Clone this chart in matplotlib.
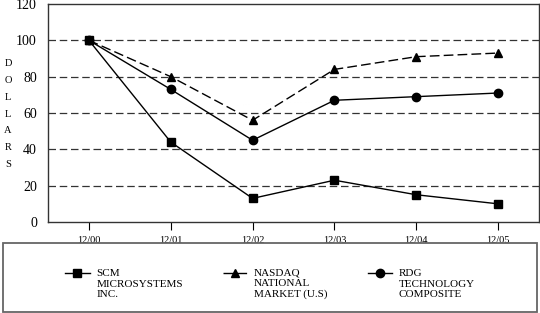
import matplotlib.pyplot as plt
from matplotlib.patches import Rectangle

plt.rcParams['font.family'] = ['Liberation Serif', 'DejaVu Serif']

periods = ["12/00", "12/01", "12/02", "12/03", "12/04", "12/05"]
scm = [100, 44, 13, 23, 15, 10]
nasdaq = [100, 80, 56, 84, 91, 93]
rdg = [100, 73, 45, 67, 69, 71]

fig = plt.figure(figsize=(5.4, 3.13), dpi=100)
ax = fig.add_axes([48/540, 1 - 222/313, (539-48)/540, (222-4)/313])

x = range(len(periods))
ax.plot(x, scm, color='black', lw=1, marker='s', ms=5.5, label="SCM\nMICROSYSTEMS\nINC.")
ax.plot(x, nasdaq, color='black', lw=1, ls=(0, (7, 3)), marker='^', ms=6,
        label="NASDAQ\nNATIONAL\nMARKET (U.S)")
ax.plot(x, rdg, color='black', lw=1, marker='o', ms=6, label="RDG\nTECHNOLOGY\nCOMPOSITE")

ax.set_xlim(-0.5, len(periods) - 0.5)
ax.set_ylim(0, 120)
ax.set_yticks(range(0, 121, 20))
ax.set_xticks(list(x))
ax.set_xticklabels(periods, fontsize=7.5)
ax.tick_params(axis='y', length=0, pad=8, labelsize=10)
ax.tick_params(axis='x', length=6, width=0.8, direction='out', pad=4)
for yv in range(20, 101, 20):
    ax.axhline(yv, color='#333333', lw=0.9, ls=(0, (6, 3)), zorder=0)
for s in ax.spines.values():
    s.set_color('#333333')
    s.set_linewidth(1)

fig.text(8/540, 1 - 114/313, "\n".join("DOLLARS"), ha='center', va='center',
         fontsize=7.5, linespacing=2.13)

fig.patches.append(Rectangle((3/540, 1 - 312/313), 534/540, 69/313, transform=fig.transFigure,
                             fill=False, edgecolor='#666666', lw=1.3))
leg = fig.legend(loc='center', bbox_to_anchor=(0.5, 1 - 284/313), ncol=3, frameon=False,
                 fontsize=8, handlelength=2.2, columnspacing=3.6, handletextpad=0.6)
# put each handle next to the first line of its label
for col in leg._legend_handle_box.get_children():
    for row in col.get_children():
        row.align = "top"

fig.savefig("out.png", dpi=100)
